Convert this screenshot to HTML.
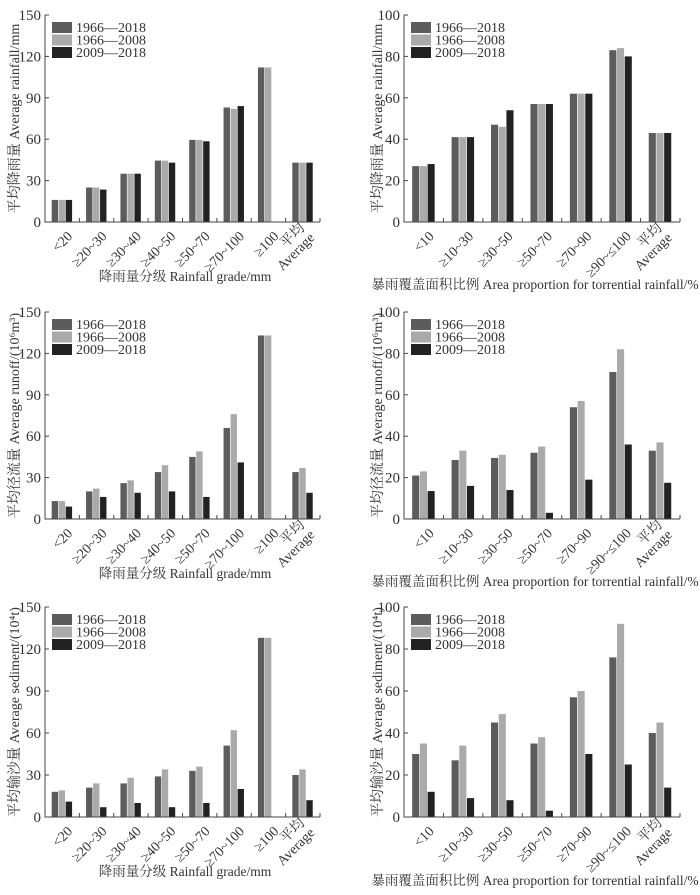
<!DOCTYPE html>
<html><head><meta charset="utf-8"><style>
html,body{margin:0;padding:0;background:#fff;}
svg text{font-family:"Liberation Serif","Noto Serif CJK SC","Noto Sans CJK SC",serif;fill:#333;}
</style></head><body>
<svg id="fig" width="700" height="890" viewBox="0 0 700 890" xmlns="http://www.w3.org/2000/svg"></svg>
<script>
const seriesNames = ["1966—2018","1966—2008","2009—2018"];
const gradeCats = ["<20","≥20~30","≥30~40","≥40~50","≥50~70","≥70~100","≥100","平均|Average"];
const areaCats = ["<10","≥10~30","≥30~50","≥50~70","≥70~90","≥90~≤100","平均|Average"];
const rainGradeA = [16,25,35,44.5,59.5,83,112,43];
const rainGradeB = [16,25,35,44.5,59.5,82,112,43];
const rainGradeC = [16,23.5,35,43,58.5,84,0,43];
const rainAreaA = [27,41,47,57,62,83,43];
const rainAreaB = [27,41,46,57,62,84,43];
const rainAreaC = [28,41,54,57,62,80,43];
const runGradeA = [13,20,26,34,45,66,133,34];
const runGradeB = [13,22,28,39,49,76,133,37];
const runGradeC = [9,16,19,20,16,41,0,19];
const runAreaA = [21,28.5,29.5,32,54,71,33];
const runAreaB = [23,33,31,35,57,82,37];
const runAreaC = [13.5,16,14,3,19,36,17.5];
const sedGradeA = [18,21,24,29,33,51,128,30];
const sedGradeB = [19,24,28,34,36,62,128,34];
const sedGradeC = [11,7,10,7,10,20,0,12];
const sedAreaA = [30,27,45,35,57,76,40];
const sedAreaB = [35,34,49,38,60,92,45];
const sedAreaC = [12,9,8,3,30,25,14];
const ticks150 = [0,30,60,90,120,150];
const ticks100 = [0,20,40,60,80,100];

const colors = ["#5c5c5c","#aaaaaa","#222222"];
const NS = "http://www.w3.org/2000/svg";
const svg = document.getElementById("fig");
function mk(tag, attrs, parent){const e=document.createElementNS(NS,tag);for(const k in attrs)e.setAttribute(k,attrs[k]);(parent||svg).appendChild(e);return e;}

const gradeTitle = "降雨量分级 Rainfall grade/mm";
const areaTitle = "暴雨覆盖面积比例 Area proportion for torrential rainfall/%";
const panels = [
 {id:"rain-grade",x0:45,x1:320,top:15,bot:222,max:150,ticks:ticks150,cats:gradeCats,s:[rainGradeA,rainGradeB,rainGradeC],yt:"平均降雨量 Average rainfall/mm",xt:gradeTitle,ytx:14,xtx:185,xty:281,bw:7},
 {id:"rain-area",x0:404,x1:680,top:15,bot:222,max:100,ticks:ticks100,cats:areaCats,s:[rainAreaA,rainAreaB,rainAreaC],yt:"平均降雨量 Average rainfall/mm",xt:areaTitle,ytx:377,xtx:535,xty:289,bw:7.7},
 {id:"runoff-grade",x0:45,x1:320,top:312,bot:519,max:150,ticks:ticks150,cats:gradeCats,s:[runGradeA,runGradeB,runGradeC],yt:"平均径流量 Average runoff/(10⁶m³)",xt:gradeTitle,ytx:14,xtx:185,xty:578,bw:7},
 {id:"runoff-area",x0:404,x1:680,top:312,bot:519,max:100,ticks:ticks100,cats:areaCats,s:[runAreaA,runAreaB,runAreaC],yt:"平均径流量 Average runoff/(10⁶m³)",xt:areaTitle,ytx:377,xtx:535,xty:586,bw:7.7},
 {id:"sediment-grade",x0:45,x1:320,top:607,bot:817,max:150,ticks:ticks150,cats:gradeCats,s:[sedGradeA,sedGradeB,sedGradeC],yt:"平均输沙量 Average  sediment/(10⁴t)",xt:gradeTitle,ytx:14,xtx:185,xty:876,bw:7},
 {id:"sediment-area",x0:404,x1:680,top:607,bot:817,max:100,ticks:ticks100,cats:areaCats,s:[sedAreaA,sedAreaB,sedAreaC],yt:"平均输沙量 Average sediment/(10⁴t)",xt:areaTitle,ytx:377,xtx:535,xty:885,bw:7.7}
];

panels.forEach(p=>{
  const g = mk("g",{});
  
  
  const y = v => p.bot - v/p.max*(p.bot-p.top);
  const n = p.cats.length;
  const cw = (p.x1-p.x0)/n;
  const xc = i => p.x0 + cw*(i+0.5);
  p.s.forEach((arr,si)=>{
    arr.forEach((v,i)=>{
      if(v<=0) return;
      const r = mk("rect",{x:xc(i)+(si-1.5)*p.bw,y:y(v),width:p.bw-0.6,height:p.bot-y(v),fill:colors[si]},g);
      
      
    });
  });
  const ax = mk("path",{d:`M${p.x0},${p.top}V${p.bot}H${p.x1}`,stroke:"#444","stroke-width":1,fill:"none"},g);
  
  
  p.ticks.forEach(t=>{
    mk("line",{x1:p.x0,x2:p.x0+4,y1:y(t),y2:y(t),stroke:"#444"},g);
    const tx = mk("text",{x:p.x0-4,y:y(t)+5,"text-anchor":"end","font-size":15},g);
    tx.textContent=t;
    
    
  });
  for(let i=1;i<=n;i++){mk("line",{x1:p.x0+cw*i,x2:p.x0+cw*i,y1:p.bot,y2:p.bot-4,stroke:"#444"},g);}
  p.cats.forEach((c,i)=>{
    const parts=c.split("|");
    const t = mk("text",{transform:`translate(${xc(i)+4},${p.bot+8}) rotate(-45)`,"text-anchor":"end","font-size":14},g);
    
    
    if(parts.length===1){ t.setAttribute("y",10); t.textContent=c; }
    else {
      const a=mk("tspan",{x:0,y:-2},t); a.textContent=parts[0];
      const b=mk("tspan",{x:0,y:12},t); b.textContent=parts[1];
    }
  });
  const yt = mk("text",{transform:`translate(${p.ytx+5},${(p.top+p.bot)/2}) rotate(-90)`,"text-anchor":"middle","font-size":14},g);
  yt.textContent=p.yt;
  
  
  const xt = mk("text",{x:p.xtx,y:p.xty,"text-anchor":"middle","font-size":13.5},g);
  xt.textContent=p.xt;
  
  
  seriesNames.forEach((nm,si)=>{
    const ly = p.top+7+si*12.5;
    const sw = mk("rect",{x:p.x0+7,y:ly,width:20,height:11,fill:colors[si]},g);
    
    
    const lt = mk("text",{x:p.x0+31,y:ly+10,"font-size":14},g);
    lt.textContent=nm;
    
    
  });
});
</script>
</body></html>
